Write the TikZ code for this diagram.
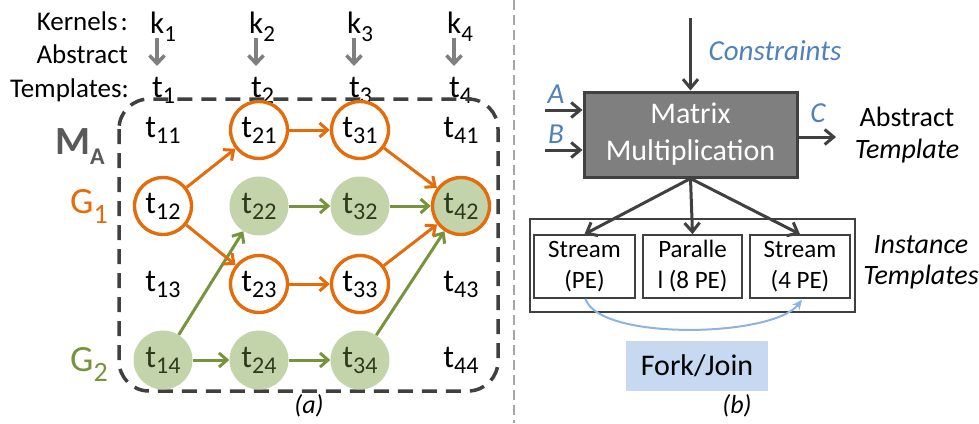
\documentclass[tikz,border=0pt]{standalone}
\usepackage{fontspec}
\setmainfont{Carlito}
\usetikzlibrary{arrows.meta}
\definecolor{orng}{HTML}{E46C0A}
\definecolor{grn}{HTML}{77933C}
\definecolor{lgrn}{HTML}{C3D3AA}
\definecolor{dgrn}{HTML}{2E3A1C}
\definecolor{dgray}{HTML}{404040}
\definecolor{mgray}{HTML}{7F7F7F}
\definecolor{mlbl}{HTML}{595959}
\definecolor{blu}{HTML}{4F81BD}
\definecolor{lblu}{HTML}{8DB3E2}
\definecolor{fblu}{HTML}{C6D9F1}
\definecolor{sepg}{HTML}{A6A6A6}
\newcommand\fs[1]{\fontsize{#1}{#1}\selectfont}
\newcommand\ts[1]{{\fs{32}t}\raisebox{-6pt}{\fs{24}#1}}
\newcommand\ks[1]{{\fs{31}k}\raisebox{-8pt}{\fs{23}#1}}
\tikzset{
  lbl/.style={font=\fs{27}, inner sep=0pt},
  oc/.style={circle, draw=orng, line width=3.4pt, minimum size=57pt, inner sep=0pt},
  gc/.style={circle, fill=lgrn, minimum size=59pt, inner sep=0pt, text=dgrn},
  pc/.style={circle, minimum size=57pt, inner sep=0pt},
  oar/.style={draw=orng, line width=3pt, -{Straight Barb[length=8pt,width=14pt]}},
  gar/.style={draw=grn, line width=3pt, -{Straight Barb[length=8pt,width=14pt]}},
  kar/.style={draw=mgray, line width=3.5pt, -{Straight Barb[length=8pt,width=15pt]}},
  dar/.style={draw=dgray, line width=3pt, -{Straight Barb[length=9pt,width=15pt]}},
  ibox/.style={draw=dgray, line width=1.6pt, minimum height=63pt, inner sep=0pt, align=center, font=\fontsize{25}{31}\selectfont},
  itl/.style={font=\fontsize{29}{29}\selectfont\itshape, text=blu, inner sep=0pt}
}
\begin{document}
\begin{tikzpicture}[x=1pt,y=-1pt]
\useasboundingbox (0,0) rectangle (979,423);
% ---------- left panel ----------
\node[lbl, anchor=base east] (lk) at (128,30) {Kernels\hspace{3pt}:};
\node[lbl, anchor=base east] (la) at (128,63) {Abstract};
\node[lbl, anchor=base east] (lt) at (129,97) {Templates:};
\foreach \i/\x in {1/150,2/249,3/347,4/447}{
  \node[inner sep=0pt, anchor=base west] (k\i) at (\x,33) {\ks{\i}};
  \node[inner sep=0pt, anchor=base west] (tt\i) at (\x+2,97) {\ts{\i}};
  \coordinate (ka\i) at (\x+7,38);
  \coordinate (kb\i) at (\x+7,66);
  \draw[kar] (ka\i) -- (kb\i);
}
\draw[dgray, line width=3.5pt, dash pattern=on 15pt off 9pt, rounded corners=30pt] (119,99) rectangle (498,391);
\node[inner sep=0pt, anchor=base west, text=mlbl] (ma) at (55,154) {\bfseries\fs{40}M\raisebox{-10pt}{\fs{24}A}};
\node[inner sep=0pt, anchor=base west, text=orng] (g1) at (70,213) {\fs{37}G\raisebox{-10pt}{\fs{28}1}};
\node[inner sep=0pt, anchor=base west, text=grn] (g2) at (70,371) {\fs{37}G\raisebox{-10pt}{\fs{28}2}};
% nodes
\node[pc] (c11) at (163,130) {\ts{11}};
\node[oc] (c21) at (259,130) {\ts{21}};
\node[oc] (c31) at (360,130) {\ts{31}};
\node[pc] (c41) at (461,130) {\ts{41}};
\node[oc] (c12) at (163,206) {\ts{12}};
\node[gc] (c22) at (259,206) {\ts{22}};
\node[gc] (c32) at (360,206) {\ts{32}};
\node[gc, draw=orng, line width=3.4pt, minimum size=57pt] (c42) at (461,206) {\ts{42}};
\node[pc] (c13) at (163,284) {\ts{13}};
\node[oc] (c23) at (259,284) {\ts{23}};
\node[oc] (c33) at (360,284) {\ts{33}};
\node[pc] (c43) at (461,284) {\ts{43}};
\node[gc] (c14) at (163,360) {\ts{14}};
\node[gc] (c24) at (259,360) {\ts{24}};
\node[gc] (c34) at (360,360) {\ts{34}};
\node[pc] (c44) at (461,360) {\ts{44}};
% green edges
\draw[gar] (c22) -- (c32);
\draw[gar] (c32) -- (c42);
\draw[gar] (c14) -- (c22);
\draw[gar] (c14) -- (c24);
\draw[gar] (c24) -- (c34);
\draw[gar] (c34) -- (c42);
% orange edges
\draw[oar] (c12) -- (c21);
\draw[oar] (c21) -- (c31);
\draw[oar] (c31) -- (c42);
\draw[oar] (c12) -- (c23);
\draw[oar] (c23) -- (c33);
\draw[oar] (c33) -- (c42);
\node[inner sep=0pt, font=\fs{26}\itshape] (capa) at (309,406) {(a)};
% separator
\coordinate (s1) at (514,0);
\coordinate (s2) at (514,423);
\draw[sepg, line width=1.6pt, dash pattern=on 10pt off 5pt] (s1) -- (s2);
% ---------- right panel ----------
\node[draw=dgray, fill=mgray, line width=3pt, minimum width=213pt, minimum height=85pt, inner sep=0pt, text=white, align=center, font=\fontsize{30}{37}\selectfont] (mm) at (690.5,134.5) {Matrix\\Multiplication};
\coordinate (cin) at (690.5,18);
\draw[dar] (cin) -- (mm.north);
\node[itl, anchor=base] (cons) at (775,60) {Constraints};
\coordinate (ain) at (545,110);
\coordinate (bin) at (545,150);
\coordinate (cout) at (836,137);
\draw[dar] (ain) -- (ain -| mm.west);
\draw[dar] (bin) -- (bin -| mm.west);
\draw[dar] (mm.east |- cout) -- (cout);
\node[itl, anchor=base] (la2) at (556,103) {A};
\node[itl, anchor=base] (lb2) at (556,143) {B};
\node[itl, anchor=base] (lc2) at (818,122) {C};
\node[inner sep=0pt, anchor=base] (abs) at (907,126) {\fs{28}Abstract};
\node[inner sep=0pt, anchor=base] (tmp) at (907,158) {\fs{28}\itshape Template};
\node[draw=dgray, line width=1.4pt, minimum width=325pt, minimum height=93pt, inner sep=0pt] (inst) at (692.5,265.5) {};
\node[ibox, minimum width=101pt] (b1) at (584.5,266.5) {Stream\\(PE)};
\node[ibox, minimum width=99pt] (b2) at (692.5,266.5) {Paralle\\l (8 PE)};
\node[ibox, minimum width=100pt] (b3) at (800,266.5) {Stream\\(4 PE)};
\draw[dar] (mm.south) -- (b1.north);
\draw[dar] (mm.south) -- (b2.north);
\draw[dar] (mm.south) -- (b3.north);
\node[inner sep=0pt, align=center, font=\fontsize{28}{31}\selectfont\itshape] (itp) at (921,262) {Instance\\Templates};
\draw[lblu, line width=2pt, -{Stealth[length=10pt,width=9pt]}] ([xshift=1pt]b1.south) .. controls +(13,42) and +(-30,38) .. ([xshift=2pt,yshift=-1pt]b3.south);
\node[fill=fblu, minimum width=142pt, minimum height=50pt, inner sep=0pt, font=\fs{30}] (fj) at (697,366) {Fork/Join};
\node[inner sep=0pt, font=\fs{26}\itshape] (capb) at (737,406) {(b)};
\end{tikzpicture}
\end{document}
